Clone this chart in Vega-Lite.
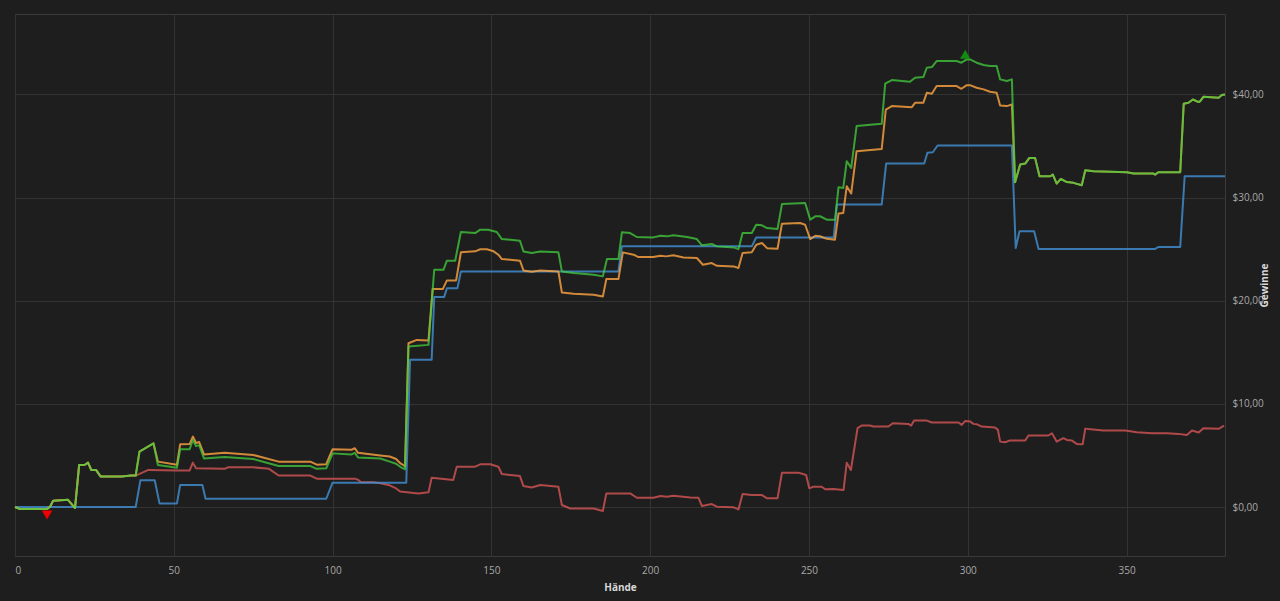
{
  "$schema": "https://vega.github.io/schema/vega-lite/v6.json",
  "background": "#1e1e1e",
  "padding": {"left": 15, "top": 14, "right": 55, "bottom": 45},
  "autosize": {"type": "none"},
  "width": 1210,
  "height": 542,
  "datasets": {
    "green": [
      {"h":0,"v":0},{"h":1.6,"v":-0.2},{"h":10,"v":-0.2},{"h":11,"v":0},{"h":12,"v":0.6},{"h":16.7,"v":0.7},{"h":18.9,"v":-0.1},{"h":20.2,"v":4.08},{"h":22,"v":4.1},{"h":23,"v":4.3},{"h":24,"v":3.6},{"h":25.5,"v":3.6},{"h":27,"v":2.95},{"h":33.5,"v":2.95},{"h":36.6,"v":3.05},{"h":38,"v":3.05},
      {"h":39.2,"v":5.37},{"h":43.6,"v":6.18},{"h":45,"v":4.08},{"h":51,"v":3.8},{"h":52,"v":5.6},{"h":55,"v":5.6},{"h":56,"v":6.5},{"h":57,"v":5.9},{"h":58,"v":6.0},{"h":59.5,"v":4.7},{"h":66,"v":4.85},{"h":75,"v":4.65},{"h":83,"v":3.97},{"h":93,"v":3.97},{"h":95,"v":3.7},{"h":98,"v":3.75},{"h":100,"v":5.2},{"h":106,"v":5.1},{"h":107,"v":5.25},{"h":108,"v":4.8},{"h":115,"v":4.7},{"h":118,"v":4.4},{"h":120,"v":4.2},{"h":121.3,"v":3.9},{"h":122.8,"v":3.65},
      {"h":123.9,"v":15.56},{"h":130.2,"v":15.72},{"h":132,"v":23.0},{"h":134.9,"v":23.0},{"h":136,"v":23.88},{"h":138.6,"v":23.88},{"h":140.4,"v":26.66},{"h":144.9,"v":26.56},{"h":146.5,"v":26.89},{"h":149,"v":26.89},{"h":151.7,"v":26.66},{"h":153.3,"v":25.98},{"h":159,"v":25.82},{"h":160.1,"v":24.78},{"h":162.7,"v":24.62},{"h":165.4,"v":24.78},{"h":171.1,"v":24.69},{"h":172.2,"v":22.84},{"h":175.9,"v":22.68},{"h":182.2,"v":22.52},{"h":185.1,"v":22.36},{"h":186.4,"v":24.04},{"h":190,"v":24.04},{"h":191.1,"v":26.63},{"h":193.7,"v":26.56},{"h":195.8,"v":26.18},{"h":201,"v":26.14},{"h":203.2,"v":26.3},{"h":205.3,"v":26.24},{"h":207.3,"v":26.34},{"h":211.6,"v":26.18},{"h":214.7,"v":25.98},{"h":216.3,"v":25.37},{"h":219.4,"v":25.5},{"h":221,"v":25.27},{"h":226.3,"v":25.17},{"h":227.8,"v":25.0},{"h":229.1,"v":26.56},{"h":232,"v":26.56},{"h":233.4,"v":27.37},{"h":235.2,"v":27.31},{"h":236.8,"v":27.05},{"h":240.1,"v":26.95},{"h":241.5,"v":29.38},{"h":248.8,"v":29.48},{"h":250.4,"v":27.86},{"h":252,"v":28.18},{"h":253.5,"v":28.19},{"h":255.6,"v":27.86},{"h":258.2,"v":27.86},
      {"h":259.3,"v":31.0},{"h":260.8,"v":30.94},{"h":261.9,"v":33.53},{"h":263.3,"v":32.88},{"h":265,"v":36.93},{"h":272.9,"v":37.15},{"h":274,"v":41.04},{"h":276.1,"v":41.39},{"h":281.8,"v":41.23},{"h":283.4,"v":41.62},{"h":286,"v":41.68},{"h":287.1,"v":42.59},{"h":288.7,"v":42.65},{"h":290.2,"v":43.24},{"h":296.5,"v":43.24},{"h":298,"v":43.08},{"h":299.7,"v":43.4},{"h":300.7,"v":43.4},{"h":302.8,"v":43.08},{"h":305,"v":42.85},{"h":307,"v":42.75},{"h":309.1,"v":42.75},{"h":310.2,"v":41.46},{"h":312.3,"v":41.3},{"h":313.9,"v":41.46},
      {"h":314.9,"v":31.49},{"h":316.5,"v":33.2},{"h":318.1,"v":33.3},{"h":319.4,"v":33.85},{"h":321.2,"v":33.85},{"h":322.6,"v":32.07},{"h":326,"v":32.07},{"h":326.8,"v":32.23},{"h":328,"v":31.36},{"h":329.3,"v":31.81},{"h":331.2,"v":31.5},{"h":333.3,"v":31.43},{"h":335.9,"v":31.2},{"h":337,"v":32.65},{"h":339.6,"v":32.56},{"h":350.1,"v":32.46},{"h":352.2,"v":32.33},{"h":358.5,"v":32.33},{"h":359,"v":32.23},{"h":360,"v":32.46},{"h":366.9,"v":32.46},{"h":368,"v":39.1},{"h":369.5,"v":39.2},{"h":370.9,"v":39.51},{"h":372.7,"v":39.26},{"h":373.2,"v":39.35},{"h":374.2,"v":39.77},{"h":379,"v":39.68},{"h":380,"v":39.94},{"h":381,"v":40.0}
    ],
    "orange": [
      {"h":0,"v":0},{"h":1.6,"v":-0.2},{"h":10,"v":-0.2},{"h":11,"v":0},{"h":12,"v":0.6},{"h":16.7,"v":0.7},{"h":18.9,"v":-0.1},{"h":20.2,"v":4.08},{"h":22,"v":4.1},{"h":23,"v":4.3},{"h":24,"v":3.6},{"h":25.5,"v":3.6},{"h":27,"v":2.95},{"h":33.5,"v":2.95},{"h":36.6,"v":3.05},{"h":38,"v":3.05},
      {"h":39.2,"v":5.37},{"h":43.6,"v":6.18},{"h":45,"v":4.4},{"h":51,"v":4.1},{"h":52,"v":6.08},{"h":55,"v":6.1},{"h":56,"v":6.83},{"h":57,"v":6.2},{"h":58,"v":6.3},{"h":59.5,"v":5.1},{"h":66,"v":5.25},{"h":75,"v":5.05},{"h":83,"v":4.4},{"h":93,"v":4.4},{"h":95,"v":4.1},{"h":98,"v":4.15},{"h":100,"v":5.6},{"h":106,"v":5.55},{"h":107,"v":5.7},{"h":108,"v":5.25},{"h":115,"v":5.0},{"h":118,"v":4.9},{"h":120,"v":4.65},{"h":121.3,"v":4.25},{"h":122.8,"v":3.95},
      {"h":123.9,"v":15.88},{"h":126.5,"v":16.2},{"h":130.2,"v":16.15},{"h":131.5,"v":21.13},{"h":134.7,"v":21.13},{"h":136,"v":21.97},{"h":138.9,"v":21.97},{"h":140.4,"v":24.69},{"h":144.9,"v":24.79},{"h":146.5,"v":24.99},{"h":148.6,"v":24.99},{"h":150.7,"v":24.79},{"h":152.2,"v":24.46},{"h":153.3,"v":24.04},{"h":159,"v":23.88},{"h":160.1,"v":22.94},{"h":162.7,"v":22.81},{"h":165.4,"v":22.94},{"h":171.1,"v":22.84},{"h":172.2,"v":20.8},{"h":175.9,"v":20.67},{"h":182.2,"v":20.58},{"h":185.1,"v":20.4},{"h":186.2,"v":22.1},{"h":190,"v":22.1},{"h":191.4,"v":24.69},{"h":194.8,"v":24.46},{"h":196.3,"v":24.23},{"h":201,"v":24.23},{"h":203.2,"v":24.36},{"h":205,"v":24.3},{"h":207.3,"v":24.4},{"h":210.5,"v":24.2},{"h":214.7,"v":24.14},{"h":216.6,"v":23.49},{"h":219.4,"v":23.65},{"h":221,"v":23.39},{"h":226.3,"v":23.33},{"h":227.8,"v":23.17},{"h":229.1,"v":24.62},{"h":232,"v":24.69},{"h":233.4,"v":25.43},{"h":235.2,"v":25.59},{"h":236.8,"v":25.1},{"h":240.1,"v":25.04},{"h":241.5,"v":27.47},{"h":247.2,"v":27.53},{"h":248.8,"v":27.37},{"h":250.4,"v":25.98},{"h":252,"v":26.3},{"h":253.5,"v":26.25},{"h":255.6,"v":26.0},{"h":258.2,"v":25.92},
      {"h":259.3,"v":28.45},{"h":260.8,"v":28.5},{"h":261.9,"v":31.1},{"h":263.3,"v":30.39},{"h":265,"v":34.5},{"h":272.9,"v":34.7},{"h":274.2,"v":38.54},{"h":276.1,"v":38.87},{"h":282.4,"v":38.77},{"h":283.4,"v":39.19},{"h":286,"v":39.19},{"h":287.1,"v":40.16},{"h":288.7,"v":40.06},{"h":290.2,"v":40.81},{"h":296.5,"v":40.81},{"h":298,"v":40.55},{"h":299.7,"v":40.9},{"h":300.7,"v":40.9},{"h":302.8,"v":40.65},{"h":305,"v":40.49},{"h":307,"v":40.26},{"h":309.1,"v":40.16},{"h":310.2,"v":38.93},{"h":312.3,"v":38.87},{"h":313.9,"v":39.03},
      {"h":314.9,"v":31.49},{"h":316.5,"v":33.2},{"h":318.1,"v":33.3},{"h":319.4,"v":33.85},{"h":321.2,"v":33.85},{"h":322.6,"v":32.07},{"h":326,"v":32.07},{"h":326.8,"v":32.23},{"h":328,"v":31.36},{"h":329.3,"v":31.81},{"h":331.2,"v":31.5},{"h":333.3,"v":31.43},{"h":335.9,"v":31.2},{"h":337,"v":32.65},{"h":339.6,"v":32.56},{"h":350.1,"v":32.46},{"h":352.2,"v":32.33},{"h":358.5,"v":32.33},{"h":359,"v":32.23},{"h":360,"v":32.46},{"h":366.9,"v":32.46},{"h":368,"v":39.1},{"h":369.5,"v":39.2},{"h":370.9,"v":39.51},{"h":372.7,"v":39.26},{"h":373.2,"v":39.35},{"h":374.2,"v":39.77},{"h":379,"v":39.68},{"h":380,"v":39.94},{"h":381,"v":40.0}
    ],
    "red": [
      {"h":0,"v":0},{"h":1.6,"v":-0.2},{"h":10,"v":-0.2},{"h":11,"v":0},{"h":12,"v":0.6},{"h":16.7,"v":0.7},{"h":18.9,"v":-0.1},{"h":20.2,"v":4.08},{"h":22,"v":4.1},{"h":23,"v":4.3},{"h":24,"v":3.6},{"h":25.5,"v":3.6},{"h":27,"v":2.95},{"h":33.5,"v":2.95},{"h":36.6,"v":3.05},{"h":38,"v":3.05},
      {"h":42,"v":3.6},{"h":51,"v":3.55},{"h":55,"v":3.55},{"h":56,"v":4.3},{"h":57,"v":3.75},{"h":66,"v":3.7},{"h":67,"v":3.85},{"h":75,"v":3.85},{"h":80,"v":3.7},{"h":83,"v":3.05},{"h":93,"v":3.05},{"h":95,"v":2.75},{"h":107,"v":2.75},{"h":108,"v":2.65},{"h":109,"v":2.4},{"h":113,"v":2.4},{"h":115,"v":2.3},{"h":118,"v":2.1},{"h":120,"v":1.8},{"h":121.3,"v":1.5},{"h":127,"v":1.32},{"h":130.2,"v":1.42},{"h":131.2,"v":2.84},{"h":138,"v":2.61},{"h":139.1,"v":3.91},{"h":144.9,"v":3.91},{"h":146.5,"v":4.14},{"h":149.7,"v":4.14},{"h":152.2,"v":3.91},{"h":153.3,"v":3.2},{"h":159,"v":3.0},{"h":160.1,"v":2.03},{"h":162.7,"v":1.9},{"h":165.4,"v":2.13},{"h":171.1,"v":1.97},{"h":172.2,"v":0.19},{"h":174.8,"v":-0.14},{"h":182.2,"v":-0.14},{"h":185.1,"v":-0.39},{"h":186.2,"v":1.32},{"h":193.7,"v":1.32},{"h":195.8,"v":0.9},{"h":201,"v":0.9},{"h":203.2,"v":1.06},{"h":205.3,"v":1.0},{"h":207.3,"v":1.1},{"h":212.6,"v":0.93},{"h":215.2,"v":0.9},{"h":216.3,"v":0.09},{"h":219.4,"v":0.29},{"h":221,"v":0.03},{"h":226.3,"v":-0.03},{"h":227.8,"v":-0.23},{"h":229.1,"v":1.26},{"h":232,"v":1.16},{"h":235.2,"v":1.16},{"h":236.8,"v":0.84},{"h":240.1,"v":0.84},{"h":241.5,"v":3.33},{"h":246.7,"v":3.33},{"h":249.1,"v":3.1},{"h":250.1,"v":1.81},{"h":251.4,"v":1.97},{"h":254,"v":1.97},{"h":255.1,"v":1.72},{"h":257.7,"v":1.75},{"h":260.9,"v":1.65},{"h":261.9,"v":4.3},{"h":263.2,"v":3.59},{"h":265.3,"v":7.64},{"h":266.6,"v":7.9},{"h":269.2,"v":7.9},{"h":270.3,"v":7.8},{"h":275,"v":7.8},{"h":276.4,"v":8.12},{"h":281.3,"v":8.06},{"h":282.2,"v":7.9},{"h":283.1,"v":8.38},{"h":287.1,"v":8.38},{"h":288.7,"v":8.19},{"h":297.1,"v":8.19},{"h":298.1,"v":7.96},{"h":299.2,"v":8.35},{"h":300.8,"v":8.28},{"h":301.8,"v":8.06},{"h":302.8,"v":8.03},{"h":304.4,"v":7.8},{"h":308.6,"v":7.7},{"h":309.5,"v":7.48},{"h":310.2,"v":6.34},{"h":311.8,"v":6.28},{"h":313.1,"v":6.44},{"h":318.1,"v":6.44},{"h":319.1,"v":6.93},{"h":325.4,"v":6.93},{"h":326.5,"v":7.15},{"h":328,"v":6.34},{"h":330.1,"v":6.67},{"h":331.2,"v":6.5},{"h":332.8,"v":6.44},{"h":334.3,"v":6.12},{"h":336.2,"v":6.09},{"h":337,"v":7.6},{"h":338.6,"v":7.54},{"h":342.7,"v":7.41},{"h":349.6,"v":7.41},{"h":353.2,"v":7.25},{"h":358,"v":7.15},{"h":362.7,"v":7.15},{"h":366.4,"v":7.09},{"h":369,"v":6.99},{"h":370.6,"v":7.41},{"h":372.7,"v":7.22},{"h":374.2,"v":7.64},{"h":379,"v":7.58},{"h":380.7,"v":7.9}
    ],
    "blue": [
      {"h":0,"v":0},{"h":38,"v":0},{"h":39.5,"v":2.6},{"h":44,"v":2.6},{"h":45.5,"v":0.35},{"h":51,"v":0.35},{"h":52,"v":2.14},{"h":59,"v":2.14},{"h":60,"v":0.8},{"h":98,"v":0.8},{"h":100,"v":2.36},{"h":123.2,"v":2.36},{"h":124.4,"v":14.27},{"h":131.2,"v":14.27},{"h":132,"v":20.35},{"h":135.1,"v":20.35},{"h":136,"v":21.2},{"h":139.3,"v":21.2},{"h":140.4,"v":22.84},{"h":190,"v":22.84},{"h":191.1,"v":25.27},{"h":232,"v":25.27},{"h":233.4,"v":26.14},{"h":257.8,"v":26.14},{"h":258.8,"v":29.32},{"h":272.9,"v":29.32},{"h":274.3,"v":33.3},{"h":286.3,"v":33.3},{"h":287.3,"v":34.34},{"h":289,"v":34.4},{"h":290.5,"v":35.05},{"h":313.9,"v":35.05},{"h":315.1,"v":25.11},{"h":316.3,"v":26.73},{"h":320.9,"v":26.73},{"h":322.3,"v":25.02},{"h":359,"v":25.02},{"h":360,"v":25.21},{"h":366.9,"v":25.21},{"h":368.3,"v":32.07},{"h":381,"v":32.07}
    ],
    "extremes": [
      {"h":10.1,"v":-0.78,"kind":"min"},
      {"h":299.2,"v":43.9,"kind":"max"}
    ]
  },
  "encoding": {
    "x": {
      "field": "h",
      "type": "quantitative",
      "title": "Hände",
      "scale": {"domain": [0, 381], "nice": false, "zero": false},
      "axis": {"values": [0, 50, 100, 150, 200, 250, 300, 350], "labelPadding": 9, "titlePadding": 7}
    },
    "y": {
      "field": "v",
      "type": "quantitative",
      "title": "Gewinne",
      "scale": {"domain": [-4.75, 47.8], "nice": false, "zero": false},
      "axis": {
        "orient": "right",
        "values": [0, 10, 20, 30, 40],
        "labelExpr": "'$' + replace(format(datum.value, '.2f'), '.', ',')",
        "labelPadding": 7,
        "titleAngle": 270,
        "titlePadding": 6
      }
    }
  },
  "layer": [
    {
      "mark": {"type": "rule", "color": "#d0d0d0", "strokeWidth": 1.5},
      "encoding": {"x": {"value": 0}, "x2": {"value": 1210}, "y": {"datum": 0}}
    },
    {
      "data": {"name": "red"},
      "mark": {"type": "line", "color": "#d45555", "strokeWidth": 2, "opacity": 0.8, "strokeJoin": "round"}
    },
    {
      "data": {"name": "blue"},
      "mark": {"type": "line", "color": "#4191d4", "strokeWidth": 2, "opacity": 0.8, "strokeJoin": "round"}
    },
    {
      "data": {"name": "orange"},
      "mark": {"type": "line", "color": "#ffa541", "strokeWidth": 2, "opacity": 0.8, "strokeJoin": "round"}
    },
    {
      "data": {"name": "green"},
      "mark": {"type": "line", "color": "#43cf3d", "strokeWidth": 2, "opacity": 0.75, "strokeJoin": "round"}
    },
    {
      "data": {"name": "extremes"},
      "mark": {"type": "point", "filled": true, "size": 110, "opacity": 1},
      "encoding": {
        "shape": {"field": "kind", "type": "nominal", "scale": {"domain": ["min", "max"], "range": ["triangle-down", "triangle-up"]}, "legend": null},
        "color": {"field": "kind", "type": "nominal", "scale": {"domain": ["min", "max"], "range": ["#f00000", "#138a13"]}, "legend": null}
      }
    }
  ],
  "config": {
    "font": "Open Sans",
    "view": {"stroke": "#3a3a3a"},
    "axis": {
      "domain": false,
      "ticks": false,
      "grid": true,
      "gridColor": "#333333",
      "labelColor": "#a8a8a8",
      "labelFontSize": 10,
      "titleColor": "#d8d8d8",
      "titleFontSize": 10,
      "titleFontWeight": "bold"
    }
  }
}
